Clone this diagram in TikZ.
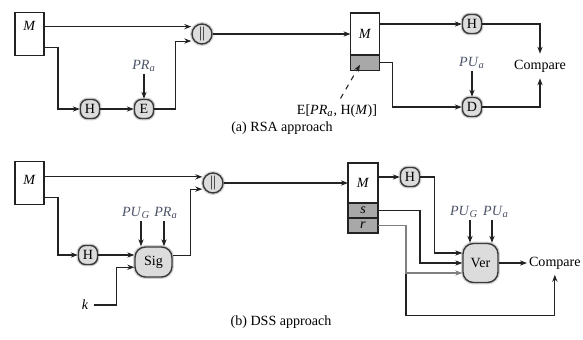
\documentclass[tikz,border=0pt]{standalone}
\usepackage{fontspec}
\setmainfont{Liberation Serif}
\usepackage{xcolor}
\definecolor{opfill}{HTML}{DCDCDC}
\definecolor{opbd}{HTML}{3A3A3A}
\definecolor{sigfill}{HTML}{A8A8A8}
\definecolor{keytext}{HTML}{4A5266}
\definecolor{wire}{HTML}{222222}
\usetikzlibrary{arrows.meta, positioning, calc}
\newcommand{\keyof}[2]{\textit{#1}\textsubscript{\textit{#2}}}

\begin{document}
\begin{tikzpicture}[
        x=0.02cm, y=-0.02cm,
        font=\fontsize{8}{9.6}\selectfont,
        msg_box/.style={
            rectangle,
            draw=wire,
            line width=0.8pt,
            fill=white,
            minimum width=0.58cm,
            minimum height=0.86cm,
            inner sep=0pt,
            outer sep=0pt
        },
        part_box/.style={
            msg_box,
            fill=sigfill,
            minimum height=0.31cm
        },
        op_node/.style={
            rectangle,
            rounded corners=4pt,
            draw=opbd,
            line width=0.8pt,
            fill=opfill,
            minimum size=0.38cm,
            inner sep=0pt,
            preaction={draw=gray!35, line width=2.2pt}
        },
        cat_node/.style={
            op_node,
            circle,
            minimum size=0.4cm
        },
        alg_box/.style={
            op_node,
            rounded corners=6pt,
            minimum width=0.74cm,
            minimum height=0.6cm
        },
        key_label/.style={text=keytext, inner sep=1pt},
        arrow/.style={
            -{Stealth[length=4pt, width=3pt]},
            draw=wire,
            line width=0.6pt
        }
    ]
    \useasboundingbox (0,0) rectangle (583,339);

    % (a) RSA approach: sender
    \node[msg_box] (mA) at (29.5,34) {};
    \node (mAtxt) at (29.5,26) {\textit{M}};
    \node[op_node] (hA) at (90,109) {H};
    \node[op_node] (eA) at (144,109) {E};
    \node[key_label] (prA) at (144,66) {\keyof{PR}{a}};
    \node[cat_node] (catA) at (202,34) {$\|$};

    \draw[arrow] ([yshift=4.2pt]mA.east) -- ([yshift=4.2pt]catA.west);
    \draw[arrow] ([yshift=-7.5pt]mA.east) -- ++(14,0) |- (hA);
    \draw[arrow] (hA) -- (eA);
    \draw[arrow] (prA) -- (eA);
    \draw[arrow] (eA.east) -- ++(21.5,0) |- ([yshift=-4pt]catA.west);

    % (a) receiver
    \node[msg_box, minimum height=0.84cm] (rAm) at (365,34) {\textit{M}};
    \node[part_box, below=0pt of rAm] (rAs) {};
    \node[op_node] (hA2) at (472,24) {H};
    \node[key_label] (puA) at (472,63) {\keyof{PU}{a}};
    \node[op_node] (dA) at (472,107) {D};
    \node (cmpA) at (540,66) {Compare};
    \node (sigA) at (337,111) {E[\keyof{PR}{a}, H(\textit{M})]};

    \draw[arrow] (catA) -- (rAm);
    \draw[arrow] (rAm.east |- hA2) -- (hA2);
    \draw[arrow] (hA2) -| (cmpA);
    \draw[arrow] (puA) -- (dA);
    \draw[arrow] (rAs.east) -- ++(13,0) |- (dA);
    \draw[arrow] (dA) -| (cmpA);
    \draw[arrow, dashed] ([xshift=2pt]sigA.north) -- ($(rAs.center)+(-5,2)$);

    \node (capA) at (282,128) {(a) RSA approach};

    % (b) DSS approach: sender
    \node[msg_box] (mB) at (29.5,183) {};
    \node (mBtxt) at (29.5,180) {\textit{M}};
    \node[op_node] (hB) at (88,255) {H};
    \node[alg_box] (sigB) at (153.5,262) {Sig};
    \node (kB) at (85,305) {\textit{k}};
    \node[key_label] (puGs) at (136,213) {\keyof{PU}{G}};
    \node[key_label] (prB) at (166,213) {\keyof{PR}{a}};
    \node[cat_node] (catB) at (213,183) {$\|$};

    \draw[arrow] ([yshift=3.5pt]mB.east) -- ([yshift=3.5pt]catB.west);
    \draw[arrow] ([yshift=-8pt]mB.east) -- ++(14,0) |- (hB);
    \draw[arrow] (hB) -- (hB -| sigB.west);
    \draw[arrow] (kB.east) -- ++(22,0) |- ([yshift=-3pt]sigB.west);
    \draw[arrow] ($(puGs.south)+(5,0)$) -- ($(puGs.south |- sigB.north)+(5,0)$);
    \draw[arrow] ($(prB.south)+(-2,0)$) -- ($(prB.south |- sigB.north)+(-2,0)$);
    \draw[arrow] ([yshift=3.5pt]sigB.east) -- ++(18,0) |- ([yshift=-3.5pt]catB.west);

    % (b) receiver
    \node[msg_box, minimum width=0.6cm, minimum height=0.8cm] (rBm) at (363,183) {\textit{M}};
    \node[part_box, minimum width=0.6cm, minimum height=0.3cm, below=0pt of rBm] (rBs) {\textit{s}};
    \node[part_box, minimum width=0.6cm, minimum height=0.3cm, below=0pt of rBs] (rBr) {\textit{r}};
    \node[op_node] (hB2) at (410,177) {H};
    \node[alg_box, minimum width=0.7cm, minimum height=0.78cm] (verB) at (480.5,263) {Ver};
    \node[key_label] (puGv) at (464,212) {\keyof{PU}{G}};
    \node[key_label] (puB) at (496,212) {\keyof{PU}{a}};
    \node[anchor=west, inner sep=1pt] (cmpB) at (527,263) {Compare};

    \draw[arrow] (catB) -- (catB -| rBm.west);
    \draw[arrow] (rBm.east |- hB2) -- (hB2);
    \draw[arrow] (hB2.east) -- ++(14,0) |- ([yshift=5.7pt]verB.west);
    \draw[arrow] (rBs.east) -- ++(42,0) |- (verB.west);
    \draw[arrow] (rBr.east) -| ++(28,90) -| ([yshift=-2pt]cmpB.south);
    \draw[arrow, draw=gray] (rBr.east) -- ++(28,0) |- ([yshift=-5.7pt]verB.west);
    \draw[arrow] ($(puGv.south)+(6,0)$) -- ($(puGv.south |- verB.north)+(6,0)$);
    \draw[arrow] ($(puB.south)+(-4,0)$) -- ($(puB.south |- verB.north)+(-4,0)$);
    \draw[arrow] (verB) -- (cmpB);

    \node (capB) at (281,322) {(b) DSS approach};

\end{tikzpicture}
\end{document}
